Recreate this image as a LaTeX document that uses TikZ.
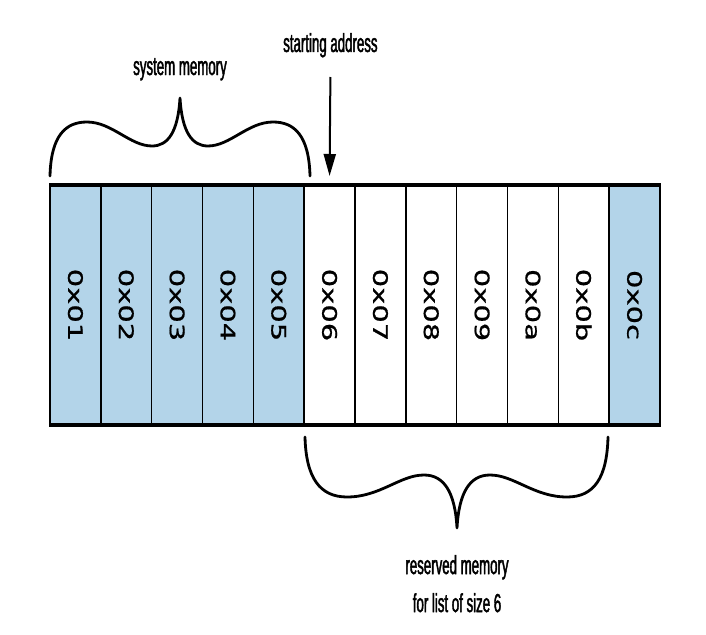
\documentclass[tikz,border=0pt]{standalone}
\usepackage{fontspec}
\usetikzlibrary{arrows.meta}
\newfontfamily\lblfont[FakeStretch=0.51,FakeBold=1.6]{Liberation Sans}
\newfontfamily\hexfont[FakeStretch=1.45,FakeBold=0.8]{DejaVu Sans}
\definecolor{sysblue}{HTML}{B3D4E9}
\begin{document}
\begin{tikzpicture}[x=1pt,y=-1pt,
  cell/.style={draw=black, line width=1.6pt, minimum width=50.833pt, minimum height=240pt, inner sep=0pt, outer sep=0pt},
  sys/.style={cell, fill=sysblue},
  free/.style={cell, fill=white},
  lbl/.style={font=\lblfont\fontsize{26}{38}\selectfont, inner sep=0pt},
  brace/.style={line width=2.8pt, line cap=round, line join=round},
  rim/.style={line width=4pt}
  ]
\useasboundingbox (0,0) rectangle (706,634);
\foreach \i/\t/\s in {1/0x01/sys,2/0x02/sys,3/0x03/sys,4/0x04/sys,5/0x05/sys,6/0x06/free,7/0x07/free,8/0x08/free,9/0x09/free,10/0x0a/free,11/0x0b/free,12/0x0c/sys}
  \node[\s] (c\i) at ({50+(\i-0.5)*50.8333}, 305) {\rotatebox{-90}{\hexfont\fontsize{20}{24}\selectfont \t}};
\draw[rim] ([xshift=-0.8pt]c1.north west) -- ([xshift=0.8pt]c12.north east);
\draw[rim] ([xshift=-0.8pt]c1.south west) -- ([xshift=0.8pt]c12.south east);
% labels
\node[lbl, anchor=base] (startlbl) at (330.4,52) {starting address};
\node[lbl, anchor=base] (sysmem) at (180,75) {system memory};
\node[lbl, anchor=north, align=center] (resmem) at (457,555) {reserved memory\\for list of size 6};
% arrow
\coordinate (arrstart) at (330.4,77);
\draw[line width=2pt, -{Triangle[length=22pt,width=12pt]}] (arrstart) -- ([yshift=9pt]c6.north);
% top brace
\draw[brace] (50,176) .. controls (51,135) and (66,122) .. (87,122)
 .. controls (112,122) and (130,146) .. (152,146)
 .. controls (168,146) and (178,132) .. (180,98)
 .. controls (182,132) and (192,146) .. (208,146)
 .. controls (230,146) and (248,122) .. (273,122)
 .. controls (294,122) and (309,135) .. (310,176);
% bottom brace
\draw[brace] (305,437) .. controls (306,478) and (320,497) .. (347,497)
 .. controls (380,497) and (400,475) .. (424,475)
 .. controls (444,475) and (455,492) .. (457,528)
 .. controls (459,492) and (470,475) .. (490,475)
 .. controls (514,475) and (534,497) .. (567,497)
 .. controls (594,497) and (607,478) .. (608,437);
\end{tikzpicture}
\end{document}
